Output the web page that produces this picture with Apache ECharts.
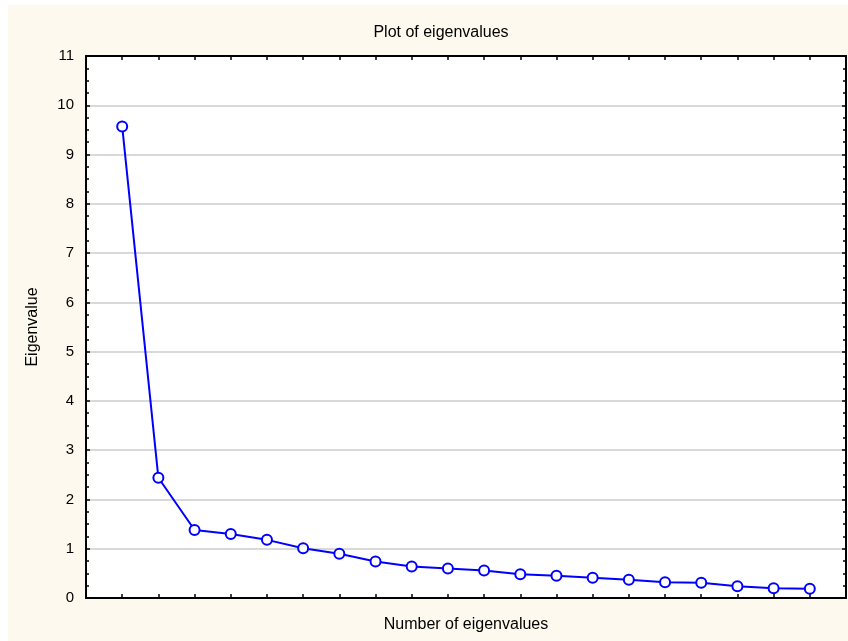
<!DOCTYPE html>
<html><head><meta charset="utf-8">
<script src="https://cdn.jsdelivr.net/npm/echarts@6/dist/echarts.min.js"></script>
<style>html,body{margin:0;padding:0;background:#fff}#c{width:848px;height:641px}</style>
</head><body><div id="c"></div>
<script>
const titleText = "Plot of eigenvalues";
const xName = "Number of eigenvalues";
const yName = "Eigenvalue";
const eigenNumbers = [1,2,3,4,5,6,7,8,9,10,11,12,13,14,15,16,17,18,19,20];
const eigenValues = [9.57,2.44,1.38,1.30,1.18,1.01,0.90,0.74,0.64,0.60,0.56,0.48,0.45,0.41,0.37,0.32,0.31,0.24,0.20,0.19];
const yTicks = [0,1,2,3,4,5,6,7,8,9,10,11];

const chart = echarts.init(document.getElementById('c'));
const font = 'Arial, "Liberation Sans", sans-serif';
const axisLine = {show:true, onZero:false, lineStyle:{color:'#000', width:2}};
chart.setOption({
  backgroundColor:'#ffffff',
  animation:false,
  graphic:[{type:'rect', z:-10, shape:{x:8,y:5,width:840,height:636}, style:{fill:'#fdf9ee'}}],
  title:{text:titleText, left:436, top:20, textAlign:'center',
    textStyle:{fontFamily:font, fontSize:16, fontWeight:'normal', color:'#000'}},
  grid:{left:86, top:56, right:2, bottom:43, show:true, backgroundColor:'#fff', borderWidth:0},
  xAxis:[
    {type:'value', min:0, max:21, interval:1, position:'bottom',
     name:xName, nameLocation:'middle', nameGap:19,
     nameTextStyle:{fontFamily:font, fontSize:16, color:'#000'},
     axisLine:axisLine, axisTick:{show:true, inside:true, length:4, lineStyle:{color:'#000', width:1.5}},
     axisLabel:{show:false}, splitLine:{show:false}},
    {type:'value', min:0, max:21, interval:1, position:'top',
     axisLine:axisLine, axisTick:{show:true, inside:true, length:4, lineStyle:{color:'#000', width:1.5}},
     axisLabel:{show:false}, splitLine:{show:false}}
  ],
  yAxis:[
    {type:'value', min:0, max:11, interval:1, position:'left',
     name:yName, nameLocation:'middle', nameGap:45, nameRotate:90,
     nameTextStyle:{fontFamily:font, fontSize:16, color:'#000'},
     axisLine:axisLine, axisTick:{show:true, inside:true, length:4, lineStyle:{color:'#000', width:1.5}},
     minorTick:{show:true, splitNumber:4, length:3, lineStyle:{color:'#000', width:1.5}},
     axisLabel:{show:true, margin:12, fontFamily:font, fontSize:15, color:'#000',
       formatter:(v)=> yTicks.includes(v) ? String(v) : ''},
     splitLine:{show:true, lineStyle:{color:'#d9d9d9', width:2}}},
    {type:'value', min:0, max:11, interval:1, position:'right',
     axisLine:axisLine, axisTick:{show:true, inside:true, length:4, lineStyle:{color:'#000', width:1.5}},
     minorTick:{show:true, splitNumber:4, length:3, lineStyle:{color:'#000', width:1.5}},
     axisLabel:{show:false}, splitLine:{show:false}}
  ],
  series:[{
    type:'line', xAxisIndex:0, yAxisIndex:0,
    data: eigenNumbers.map((n,i)=>[n, eigenValues[i]]),
    symbol:'circle', symbolSize:10, showAllSymbol:true,
    lineStyle:{color:'#0000ff', width:2},
    itemStyle:{color:'#ffffff', borderColor:'#0000ff', borderWidth:2},
    z:5
  }]
});
</script></body></html>
